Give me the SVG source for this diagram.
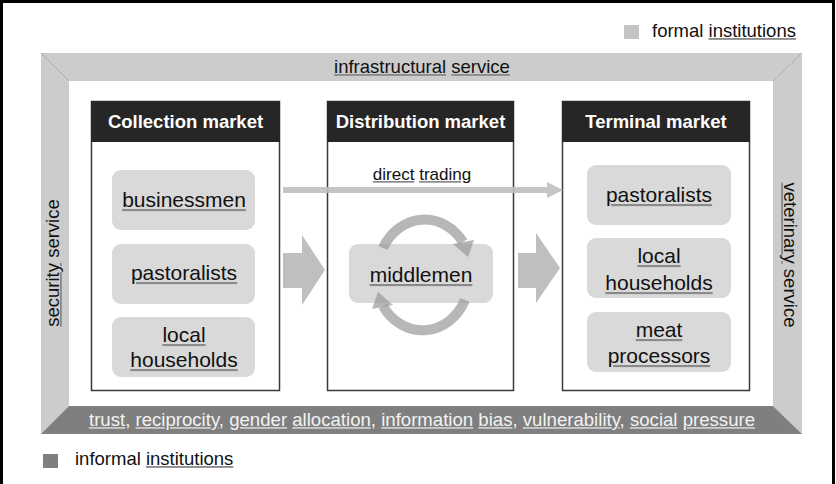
<svg xmlns="http://www.w3.org/2000/svg" width="836" height="484" viewBox="0 0 836 484">
<style>
text{font-family:"Liberation Sans",Arial,sans-serif;}
.u{text-decoration:underline;fill:#8a8a8a;}
.uw{text-decoration:underline;fill:#c8c8c8;}
.k{fill:#111;}
.w{fill:#f2f2f2;}
.band{fill:#cccccc;}
.box{fill:#ffffff;stroke:#3a3a3a;stroke-width:1.5;}
.hdr{fill:#262626;}
.ttl{fill:#ffffff;font-weight:bold;font-size:18.5px;text-anchor:middle;}
.item{fill:#d9d9d9;}
.it{fill:#111;font-size:21px;text-anchor:middle;}
.lbl{fill:#111;font-size:18.5px;}
.blk{fill:#bfbfbf;}
.cyc{fill:none;stroke:#999;stroke-width:10;opacity:0.7;}
.cych{fill:#999;opacity:0.7;}
</style>
<rect x="0" y="0" width="836" height="484" fill="#ffffff"/>
<path d="M1.5,484 V1.5 H833.5 V484" fill="none" stroke="#000" stroke-width="3"/>

<g id="legend-formal">
<rect x="624" y="25" width="15" height="14" fill="#c4c4c4"/>
<text class="lbl" x="652" y="37"><tspan>formal </tspan><tspan class="u"><tspan class="k">institutions</tspan></tspan></text>
</g>

<g id="frame">
<polygon id="infrastructural" class="band" points="41,53 802,53 773,81 69,81"/>
<polygon id="security" class="band" points="41,53 69,81 69,406 41,434"/>
<polygon id="veterinary" class="band" points="802,53 802,434 773,406 773,81"/>
<polygon id="informal-band" points="69,406 773,406 802,434 41,434" fill="#7f7f7f"/>
<line x1="41" y1="53" x2="69" y2="81" stroke="#999" stroke-width="1" stroke-dasharray="2,1"/>
<line x1="802" y1="53" x2="773" y2="81" stroke="#999" stroke-width="1" stroke-dasharray="2,1"/>
<text class="lbl" x="422" y="73" text-anchor="middle"><tspan class="u"><tspan class="k">infrastructural</tspan></tspan> <tspan class="u"><tspan class="k">service</tspan></tspan></text>
<text class="lbl" transform="translate(59,263) rotate(-90)" text-anchor="middle"><tspan class="u"><tspan class="k">security</tspan></tspan> service</text>
<text class="lbl" transform="translate(784,255) rotate(90)" text-anchor="middle"><tspan class="u"><tspan class="k">veterinary</tspan></tspan> service</text>
<text x="422" y="426" text-anchor="middle" font-size="18.6" fill="#f2f2f2"><tspan class="uw"><tspan class="w">trust</tspan></tspan>, <tspan class="uw"><tspan class="w">reciprocity</tspan></tspan>, <tspan class="uw"><tspan class="w">gender</tspan></tspan> <tspan class="uw"><tspan class="w">allocation</tspan></tspan>, <tspan class="uw"><tspan class="w">information</tspan></tspan> <tspan class="uw"><tspan class="w">bias</tspan></tspan>, <tspan class="uw"><tspan class="w">vulnerability</tspan></tspan>, <tspan class="uw"><tspan class="w">social</tspan></tspan> <tspan class="uw"><tspan class="w">pressure</tspan></tspan></text>
</g>

<g id="legend-informal">
<rect x="43" y="454" width="15" height="14" fill="#7f7f7f"/>
<text class="lbl" x="75" y="465"><tspan>informal </tspan><tspan class="u"><tspan class="k">institutions</tspan></tspan></text>
</g>

<g id="collection-market">
<rect class="box" x="91.5" y="101.5" width="188" height="289"/>
<rect class="hdr" x="91" y="101" width="189" height="41"/>
<text class="ttl" x="185.5" y="128">Collection market</text>
<g id="c-businessmen"><rect class="item" x="112" y="170" width="143" height="60" rx="9"/><text class="it" x="184" y="207"><tspan class="u"><tspan class="k">businessmen</tspan></tspan></text></g>
<g id="c-pastoralists"><rect class="item" x="112" y="244" width="143" height="60" rx="9"/><text class="it" x="184" y="280"><tspan class="u"><tspan class="k">pastoralists</tspan></tspan></text></g>
<g id="c-households"><rect class="item" x="112" y="317" width="143" height="60" rx="9"/><text class="it" x="184" y="342"><tspan class="u"><tspan class="k">local</tspan></tspan></text><text class="it" x="184" y="367"><tspan class="u"><tspan class="k">households</tspan></tspan></text></g>
</g>

<g id="distribution-market">
<rect class="box" x="327.5" y="101.5" width="186" height="289"/>
<rect class="hdr" x="327" y="101" width="187" height="41"/>
<text class="ttl" x="420.5" y="128">Distribution market</text>
<g id="d-middlemen"><rect class="item" x="349" y="244" width="144" height="59" rx="9"/><text class="it" x="421" y="282"><tspan class="u"><tspan class="k">middlemen</tspan></tspan></text></g>
</g>

<g id="terminal-market">
<rect class="box" x="562.5" y="101.5" width="187" height="289"/>
<rect class="hdr" x="562" y="101" width="188" height="41"/>
<text class="ttl" x="656" y="128">Terminal market</text>
<g id="t-pastoralists"><rect class="item" x="587" y="165" width="144" height="60" rx="9"/><text class="it" x="659" y="202"><tspan class="u"><tspan class="k">pastoralists</tspan></tspan></text></g>
<g id="t-households"><rect class="item" x="587" y="238" width="144" height="60" rx="9"/><text class="it" x="659" y="263"><tspan class="u"><tspan class="k">local</tspan></tspan></text><text class="it" x="659" y="290"><tspan class="u"><tspan class="k">households</tspan></tspan></text></g>
<g id="t-processors"><rect class="item" x="587" y="312" width="144" height="60" rx="9"/><text class="it" x="659" y="337"><tspan class="u"><tspan class="k">meat</tspan></tspan></text><text class="it" x="659" y="363"><tspan class="u"><tspan class="k">processors</tspan></tspan></text></g>
</g>

<g id="connectors">
<polygon class="blk" points="283,253 302,253 302,235 325,270 302,305 302,288 283,288"/>
<polygon class="blk" points="518,253 536,253 536,233 560,268 536,303 536,288 518,288"/>
<g opacity="0.9">
<line x1="283" y1="190" x2="548" y2="190" stroke="#bfbfbf" stroke-width="6"/>
<polygon points="547,182 563,190 547,198" fill="#bfbfbf"/>
</g>
<text x="422" y="180" font-size="17" fill="#111" text-anchor="middle"><tspan class="u"><tspan class="k">direct</tspan></tspan> <tspan class="u"><tspan class="k">trading</tspan></tspan></text>
<path class="cyc" d="M383,248 A47,53 0 0,1 463,242"/>
<polygon class="cych" points="453,244 474,240 468,257"/>
<path class="cyc" d="M465,300 A47,53 0 0,1 383,306"/>
<polygon class="cych" points="393,305 372,309 378,292"/>
</g>
</svg>
